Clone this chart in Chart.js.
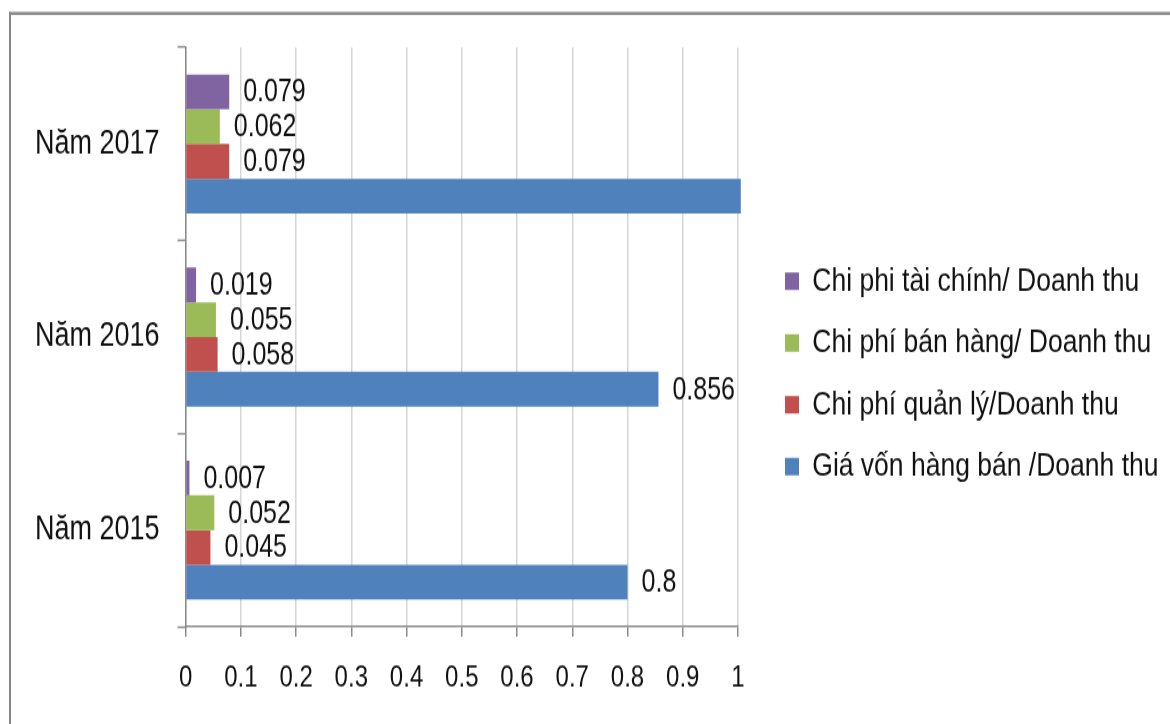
<!DOCTYPE html>
<html>
<head>
<meta charset="utf-8">
<script src="https://cdn.jsdelivr.net/npm/chart.js@4/dist/chart.umd.min.js"></script>
<style>
  body { margin: 0; background: #fff; }
</style>
</head>
<body>
<!-- drawn at 1170x580 and stretched to 724 tall, like the reference picture -->
<canvas id="chart" width="1170" height="580" style="display:block;width:1170px;height:724px"></canvas>
<script>
const categories = ['Năm 2017', 'Năm 2016', 'Năm 2015'];

const taiChinh = [0.079, 0.019, 0.007];   // Chi phi tài chính/ Doanh thu
const banHang = [0.062, 0.055, 0.052];    // Chi phí bán hàng/ Doanh thu
const quanLy = [0.079, 0.058, 0.045];     // Chi phí quản lý/Doanh thu
const giaVon = [1.005, 0.856, 0.8];       // Giá vốn hàng bán /Doanh thu (2017 bar runs past the axis)

const xTickLabels = ['0', '0.1', '0.2', '0.3', '0.4', '0.5', '0.6', '0.7', '0.8', '0.9', '1'];

const FONT = "'Liberation Sans', Arial, sans-serif";
const AXIS_GREY = '#8a8a8a';

// white page + the grey frame lines on top and left
const framePlugin = {
    id: 'frame',
    beforeDraw(chart) {
        const c = chart.ctx;
        c.save();
        c.fillStyle = '#fff';
        c.fillRect(0, 0, chart.width, chart.height);
        c.fillStyle = '#878787';
        c.fillRect(9, 9.5, chart.width - 9, 2.4);
        c.fillRect(9, 9.5, 2, chart.height);
        c.restore();
    }
};

// value labels to the right of each bar
const valueLabels = {
    id: 'valueLabels',
    afterDatasetsDraw(chart) {
        const c = chart.ctx;
        const max = chart.scales.x.max;
        c.save();
        c.font = '25px ' + FONT;
        c.fillStyle = '#111';
        c.textAlign = 'left';
        c.textBaseline = 'middle';
        chart.data.datasets.forEach((ds, i) => {
            chart.getDatasetMeta(i).data.forEach((bar, j) => {
                const v = ds.data[j];
                if (v > max) return;
                c.fillText(String(v), bar.x + 14, bar.y + 1);
            });
        });
        c.restore();
    }
};

const ctx = document.getElementById('chart');

new Chart(ctx, {
    type: 'bar',
    data: {
        labels: categories,
        datasets: [
            { label: 'Chi phi tài chính/ Doanh thu', data: taiChinh, backgroundColor: '#8064A2' },
            { label: 'Chi phí bán hàng/ Doanh thu', data: banHang, backgroundColor: '#9BBB59' },
            { label: 'Chi phí quản lý/Doanh thu', data: quanLy, backgroundColor: '#C0504D' },
            { label: 'Giá vốn hàng bán /Doanh thu', data: giaVon, backgroundColor: '#4F81BD', clip: false }
        ]
    },
    options: {
        indexAxis: 'y',
        responsive: false,
        devicePixelRatio: 1,
        animation: false,
        categoryPercentage: 0.72,
        barPercentage: 1,
        layout: {
            padding: { left: 17, top: 38, right: 1.5, bottom: 19 }
        },
        scales: {
            x: {
                min: 0,
                max: 1,
                ticks: {
                    stepSize: 0.1,
                    padding: 19,
                    color: '#111',
                    font: { family: FONT, size: 24 },
                    callback: (v, i) => xTickLabels[i]
                },
                grid: {
                    color: '#d6d6d6',
                    lineWidth: 1.5,
                    tickColor: AXIS_GREY,
                    tickLength: 8,
                    tickWidth: 1.5
                },
                border: { color: AXIS_GREY, width: 1.5 },
                afterFit(scale) { scale.height = 59; }
            },
            y: {
                ticks: {
                    padding: 18,
                    color: '#111',
                    font: { family: FONT, size: 27 }
                },
                grid: {
                    drawOnChartArea: false,
                    tickColor: AXIS_GREY,
                    tickLength: 8,
                    tickWidth: 1.5
                },
                border: { color: AXIS_GREY, width: 1.5 }
            },
            gap: {
                type: 'category',
                axis: 'y',
                position: 'right',
                grid: { display: false },
                ticks: { display: false },
                border: { display: false },
                afterFit(scale) { scale.width = 24; }
            }
        },
        plugins: {
            legend: {
                position: 'right',
                maxWidth: 430,
                labels: {
                    boxWidth: 14,
                    boxHeight: 14,
                    padding: 23,
                    color: '#111',
                    font: { family: FONT, size: 26.5 }
                }
            },
            tooltip: { enabled: false }
        }
    },
    plugins: [framePlugin, valueLabels]
});
</script>
</body>
</html>
